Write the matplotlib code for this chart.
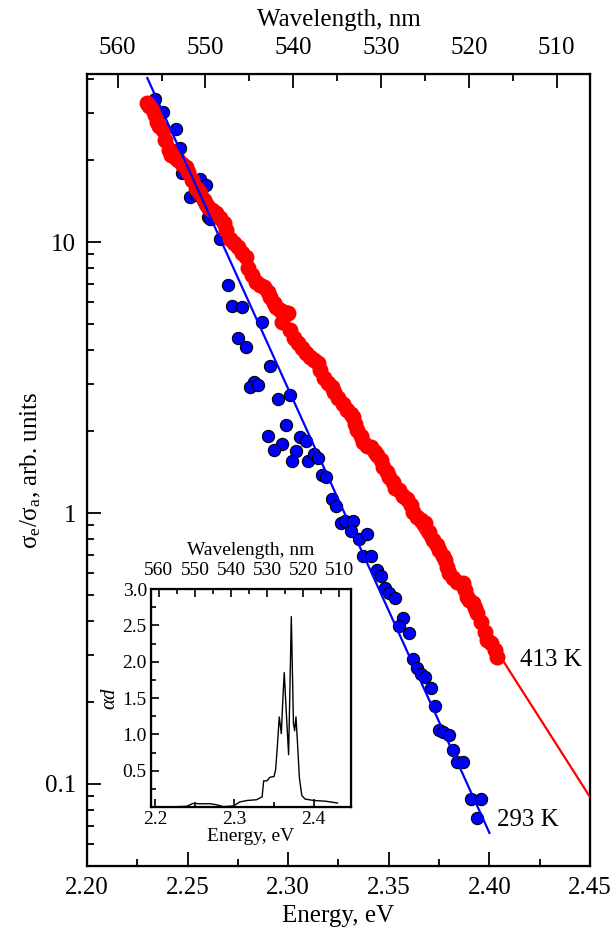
import matplotlib.pyplot as plt
from matplotlib.ticker import MultipleLocator, FixedLocator, LogLocator, NullFormatter, FormatStrFormatter

plt.rcParams['font.family'] = ['Liberation Serif', 'DejaVu Serif']
plt.rcParams['mathtext.fontset'] = 'custom'
plt.rcParams['mathtext.rm'] = 'Liberation Serif'
plt.rcParams['mathtext.it'] = 'Liberation Serif:italic'

# 293 K points (energy, eV / ratio)
blue_E = [2.234, 2.238, 2.244, 2.246, 2.247, 2.251, 2.254, 2.256, 2.259, 2.260,
          2.261, 2.266, 2.270, 2.272, 2.277, 2.287, 2.275, 2.279, 2.291, 2.283,
          2.281, 2.285, 2.295, 2.301, 2.299, 2.290, 2.297, 2.293, 2.306, 2.309,
          2.304, 2.302, 2.310, 2.313, 2.315, 2.317, 2.319, 2.322, 2.324, 2.326,
          2.328, 2.332, 2.331, 2.335, 2.339, 2.337, 2.341, 2.344, 2.346, 2.348,
          2.350, 2.353, 2.357, 2.355, 2.360, 2.362, 2.364, 2.366, 2.368, 2.371,
          2.373, 2.375, 2.377, 2.380, 2.382, 2.384, 2.387, 2.391, 2.396, 2.394]
blue_s = [33.7, 30.2, 26.1, 22.2, 18.0, 14.7, 14.9, 17.1, 16.2, 12.4,
          12.2, 10.3, 6.93, 5.81, 5.76, 5.07, 4.43, 4.10, 3.49, 3.04,
          2.92, 2.97, 2.63, 2.72, 2.11, 1.92, 1.80, 1.71, 1.91, 1.84,
          1.69, 1.56, 1.56, 1.65, 1.60, 1.38, 1.36, 1.13, 1.06, 0.919,
          0.934, 0.934, 0.859, 0.802, 0.837, 0.694, 0.694, 0.616, 0.586, 0.529,
          0.507, 0.486, 0.410, 0.383, 0.361, 0.289, 0.268, 0.255, 0.248, 0.226,
          0.194, 0.158, 0.156, 0.152, 0.133, 0.120, 0.120, 0.088, 0.088, 0.075]

# 413 K points
red_E = [2.230, 2.231, 2.233, 2.234, 2.235, 2.236, 2.238, 2.239, 2.241, 2.242,
         2.244, 2.245, 2.247, 2.249, 2.250, 2.252, 2.254, 2.255, 2.256, 2.258,
         2.259, 2.260, 2.262, 2.264, 2.266, 2.268, 2.269, 2.271, 2.273, 2.275,
         2.277, 2.279, 2.280, 2.282, 2.284, 2.286, 2.288, 2.290, 2.291, 2.293,
         2.294, 2.296, 2.298, 2.300, 2.297, 2.301, 2.303, 2.305, 2.307, 2.309,
         2.311, 2.313, 2.315, 2.316, 2.318, 2.320, 2.322, 2.323, 2.325, 2.327,
         2.329, 2.331, 2.332, 2.333, 2.334, 2.336, 2.337, 2.339, 2.341, 2.343,
         2.344, 2.346, 2.347, 2.349, 2.350, 2.352, 2.353, 2.355, 2.357, 2.359,
         2.361, 2.362, 2.364, 2.366, 2.368, 2.370, 2.372, 2.374, 2.375, 2.377,
         2.378, 2.379, 2.380, 2.382, 2.384, 2.387, 2.388, 2.389, 2.390, 2.392,
         2.393, 2.394, 2.396, 2.398, 2.399, 2.401, 2.403, 2.404]
red_s = [32.6, 31.8, 30.7, 29.4, 27.7, 26.8, 25.9, 23.8, 21.8, 20.9,
         20.4, 20.1, 19.4, 18.9, 18.1, 16.9, 15.8, 15.6, 15.2, 14.3,
         13.8, 13.5, 13.1, 12.8, 12.3, 11.8, 11.1, 10.3, 9.92, 9.59,
         9.11, 8.81, 8.02, 7.55, 7.11, 6.93, 6.82, 6.53, 6.27, 5.96,
         5.76, 5.61, 5.52, 5.47, 5.07, 4.73, 4.43, 4.24, 4.06, 3.89,
         3.76, 3.67, 3.58, 3.37, 3.15, 3.02, 2.92, 2.79, 2.65, 2.52,
         2.40, 2.32, 2.26, 2.13, 2.02, 1.92, 1.83, 1.77, 1.75, 1.68,
         1.64, 1.57, 1.48, 1.42, 1.36, 1.30, 1.24, 1.22, 1.16, 1.13,
         1.07, 1.01, 0.966, 0.942, 0.918, 0.851, 0.794, 0.762, 0.730, 0.693,
         0.671, 0.632, 0.601, 0.576, 0.556, 0.552, 0.520, 0.490, 0.478, 0.466,
         0.446, 0.428, 0.396, 0.364, 0.340, 0.331, 0.312, 0.294]

# exponential fits (end points)
blue_fit_E = [2.230, 2.400]
blue_fit_s = [40.3, 0.066]
red_fit_E = [2.229, 2.450]
red_fit_s = [33.4, 0.0895]

# inset absorption spectrum
ins_E = [2.195, 2.215, 2.240, 2.248, 2.257, 2.270, 2.278, 2.286, 2.299, 2.307,
         2.316, 2.328, 2.335, 2.337, 2.341, 2.345, 2.350, 2.352, 2.354, 2.3566,
         2.3592, 2.361, 2.3629, 2.3655, 2.3684, 2.370, 2.3718, 2.3745, 2.376,
         2.3777, 2.3795, 2.382, 2.385, 2.389, 2.400, 2.415, 2.430]
ins_a = [0.0, 0.0, 0.01, 0.05, 0.045, 0.045, 0.03, 0.005, 0.015, 0.07,
         0.09, 0.10, 0.14, 0.36, 0.36, 0.41, 0.42, 0.51, 0.80, 1.24,
         1.01, 1.45, 1.85, 1.30, 0.72, 1.60, 2.62, 1.15, 1.05,
         1.24, 0.90, 0.40, 0.16, 0.11, 0.09, 0.08, 0.055]

fig = plt.figure(figsize=(6.16, 9.36), dpi=100)
ax = fig.add_axes([0.1412, 0.0748, 0.8166, 0.8461])

ax.plot(blue_E, blue_s, 'o', color='#0000ff', markeredgecolor='black',
        markeredgewidth=0.8, markersize=8.8, zorder=2)
ax.plot(red_fit_E, red_fit_s, '-', color='#ff0000', lw=1.6, zorder=3)
ax.plot(red_E, red_s, 'o', color='#ff0000', markeredgewidth=0,
        markersize=11.5, zorder=4)
ax.plot(blue_fit_E, blue_fit_s, '-', color='#0000ff', lw=1.6, zorder=5)

ax.text(2.415, 0.287, '413 K', fontsize=18, va='center', ha='left')
ax.text(2.404, 0.0736, '293 K', fontsize=18, va='center', ha='left')

ax.set_yscale('log')
ax.set_xlim(2.2, 2.45)
ax.set_ylim(0.0498, 41.7)
ax.xaxis.set_major_locator(MultipleLocator(0.05))
ax.xaxis.set_minor_locator(MultipleLocator(0.025))
ax.xaxis.set_major_formatter(FormatStrFormatter('%.2f'))
ax.yaxis.set_major_locator(FixedLocator([0.1, 1, 10]))
ax.set_yticklabels(['0.1', '1', '10'])
ax.yaxis.set_minor_locator(LogLocator(base=10, subs=range(2, 10)))
ax.yaxis.set_minor_formatter(NullFormatter())
ax.tick_params(which='both', direction='in', top=False, right=False,
               labelsize=18, width=1.3, pad=8)
ax.tick_params(which='major', length=10)
ax.tick_params(which='minor', length=5)
for s in ax.spines.values():
    s.set_linewidth(1.6)
ax.set_xlabel('Energy, eV', fontsize=18, labelpad=4)
ax.set_ylabel('σ$_{\\rm e}$/σ$_{\\rm a}$, arb. units', fontsize=18, labelpad=1)

axt = ax.twiny()
axt.set_xlim(563.5, 506.2)
axt.xaxis.set_major_locator(MultipleLocator(10))
axt.xaxis.set_minor_locator(MultipleLocator(5))
axt.tick_params(which='both', direction='in', labelsize=18, width=1.3, pad=11)
axt.tick_params(which='major', length=10)
axt.tick_params(which='minor', length=5)
axt.set_xlabel('Wavelength, nm', fontsize=18, labelpad=8)

# inset
ai = fig.add_axes([0.2451, 0.1378, 0.3247, 0.2329])
ai.plot(ins_E, ins_a, '-', color='black', lw=1.0)
ai.set_xlim(2.195, 2.447)
ai.set_ylim(0, 3.0)
ai.xaxis.set_major_locator(FixedLocator([2.2, 2.3, 2.4]))
ai.xaxis.set_minor_locator(MultipleLocator(0.05))
ai.yaxis.set_major_locator(FixedLocator([0.5, 1.0, 1.5, 2.0, 2.5, 3.0]))
ai.yaxis.set_major_formatter(FormatStrFormatter('%.1f'))
ai.yaxis.set_minor_locator(MultipleLocator(0.25))
ai.tick_params(which='both', direction='in', top=False, right=False,
               labelsize=14, width=1.2, pad=3)
ai.tick_params(which='major', length=6)
ai.tick_params(which='minor', length=3.5)
for s in ai.spines.values():
    s.set_linewidth(1.6)
ai.set_xlabel('Energy, eV', fontsize=14, labelpad=0)
ai.set_ylabel('$\\alpha d$', fontsize=15, labelpad=2)

ait = ai.twiny()
ait.set_xlim(562.2, 506.7)
ait.xaxis.set_major_locator(MultipleLocator(10))
ait.xaxis.set_minor_locator(MultipleLocator(5))
ait.tick_params(which='both', direction='in', labelsize=14, width=1.2, pad=7)
ait.tick_params(which='major', length=6)
ait.tick_params(which='minor', length=3.5)
ait.set_xlabel('Wavelength, nm', fontsize=14, labelpad=5)

fig.savefig('out.png', dpi=100)
